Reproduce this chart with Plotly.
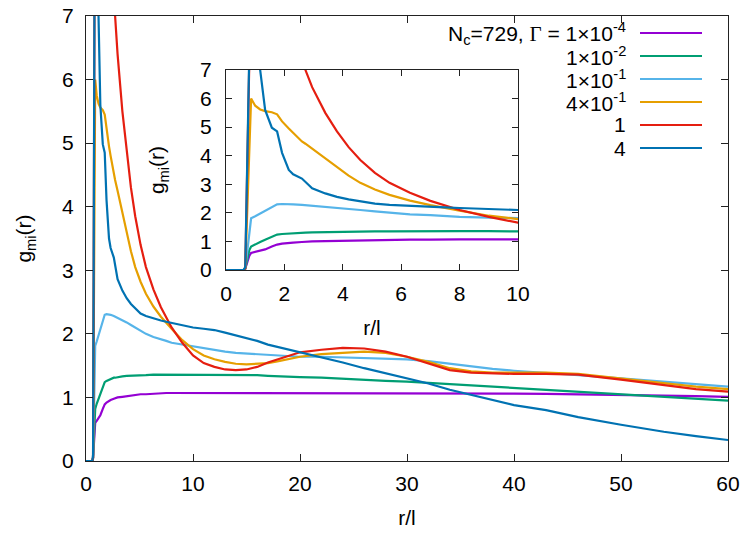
import plotly.graph_objects as go

# ---------------- data ----------------
r = [0, 0.6, 0.66, 0.8, 0.86, 1.0, 1.17, 1.34, 1.57, 1.75,
     1.92, 2.15, 2.3, 2.6, 2.72, 2.95, 3.4, 3.8, 4.2, 4.6,
     5.1, 5.6, 6.3, 7.0, 7.5, 8, 9, 10, 11, 12,
     13, 14, 15, 16, 17, 18, 20, 22, 24, 26,
     28, 30, 32, 34, 36, 38, 40, 43, 46, 50,
     54, 57, 60]

g_1e_4 = [0, 0, 0.05, 0.5, 0.6, 0.63, 0.67, 0.72, 0.82, 0.89,
          0.92, 0.95, 0.96, 0.98, 0.99, 1.0, 1.01, 1.02, 1.03, 1.04,
          1.05, 1.05, 1.06, 1.06, 1.07, 1.07, 1.07, 1.07, 1.07, 1.07,
          1.07, 1.07, 1.07, 1.07, 1.07, 1.07, 1.07, 1.07, 1.07, 1.07,
          1.07, 1.07, 1.07, 1.07, 1.07, 1.065, 1.06, 1.055, 1.05, 1.04,
          1.03, 1.02, 1.01]

g_1e_2 = [0, 0, 0.05, 0.7, 0.82, 0.9, 0.98, 1.06, 1.17, 1.24,
          1.26, 1.28, 1.29, 1.31, 1.31, 1.32, 1.33, 1.34, 1.34, 1.35,
          1.35, 1.35, 1.36, 1.36, 1.36, 1.36, 1.36, 1.36, 1.36, 1.36,
          1.36, 1.36, 1.35, 1.35, 1.34, 1.33, 1.32, 1.31, 1.29, 1.28,
          1.26, 1.25, 1.23, 1.21, 1.19, 1.16, 1.14, 1.11, 1.08, 1.04,
          1.0, 0.98, 0.95]

g_1e_1 = [0, 0, 0.05, 1.3, 1.81, 1.88, 1.97, 2.07, 2.2, 2.3,
          2.31, 2.31, 2.3, 2.28, 2.27, 2.25, 2.22, 2.18, 2.14, 2.1,
          2.05, 2.0, 1.95, 1.92, 1.89, 1.86, 1.83, 1.8, 1.77, 1.74,
          1.72, 1.70, 1.69, 1.67, 1.66, 1.65, 1.64, 1.64, 1.63, 1.63,
          1.62, 1.60, 1.57, 1.53, 1.48, 1.45, 1.42, 1.39, 1.35, 1.30,
          1.25, 1.21, 1.17]

g_4e_1 = [0, 0, 0.05, 4.2, 6.0, 5.75, 5.62, 5.56, 5.52, 5.45,
          5.2, 4.95, 4.8, 4.5, 4.42, 4.25, 3.9, 3.6, 3.3, 3.05,
          2.82, 2.63, 2.43, 2.27, 2.17, 2.08, 1.9, 1.76, 1.66, 1.6,
          1.56, 1.53, 1.52, 1.53, 1.54, 1.57, 1.64, 1.68, 1.70, 1.72,
          1.70, 1.64, 1.56, 1.46, 1.41, 1.39, 1.39, 1.39, 1.37, 1.30,
          1.22, 1.17, 1.13]

g_1 = [0, 0, 0.05, 7.4, 20, 18, 15, 13, 11.5, 10.5,
       9.7, 8.8, 8.3, 7.4, 7.0, 6.4, 5.5, 4.85, 4.3, 3.85,
       3.4, 3.05, 2.7, 2.42, 2.25, 2.1, 1.86, 1.66, 1.54, 1.48,
       1.44, 1.43, 1.44, 1.48, 1.55, 1.60, 1.71, 1.75, 1.78, 1.77,
       1.72, 1.64, 1.53, 1.43, 1.39, 1.38, 1.37, 1.37, 1.36, 1.28,
       1.19, 1.13, 1.09]

g_4 = [0, 0, 0.1, 7.4, 11, 10, 7.0, 5.6, 4.98, 4.85,
       4.1, 3.5, 3.35, 3.2, 3.08, 2.86, 2.68, 2.56, 2.47, 2.4,
       2.32, 2.28, 2.24, 2.21, 2.19, 2.17, 2.13, 2.1, 2.08, 2.06,
       2.02, 1.98, 1.94, 1.89, 1.83, 1.79, 1.72, 1.64, 1.55, 1.46,
       1.38, 1.30, 1.22, 1.12, 1.04, 0.96, 0.88, 0.80, 0.69, 0.57,
       0.46, 0.39, 0.33]

legend_labels = ["N<sub>c</sub>=729, <span style=\"font-family:'Liberation Serif'\">Γ</span> = 1×10<sup>-4</sup>",
                 "1×10<sup>-2</sup>", "1×10<sup>-1</sup>", "4×10<sup>-1</sup>", "1", "4"]
series = [g_1e_4, g_1e_2, g_1e_1, g_4e_1, g_1, g_4]
colors = ["#9400d3", "#009e73", "#56b4e9", "#e69f00", "#e51e10", "#0072b2"]

# ---------------- layout geometry (page pixels; page body has 8px margin) ----------------
OFF = 8
W, H = 750 - OFF, 534 - OFF
PL, PR, PT, PB = 86, 728, 16, 461          # plot area in page pixels
L, R, T, B = PL - OFF, 750 - PR, PT - OFF, 534 - PB
PW, PH = PR - PL, PB - PT


def px(x):
    return (x - PL) / PW


def py(y):
    return (PB - y) / PH


FONT = "Liberation Sans, Arial, sans-serif"
FS = 21
AXC = "#222222"

fig = go.Figure()
for y, c in zip(series, colors):
    fig.add_trace(go.Scatter(x=r, y=y, mode="lines", line=dict(color=c, width=2.2),
                             xaxis="x", yaxis="y", showlegend=False, hoverinfo="skip"))
for y, c in zip(series, colors):
    fig.add_trace(go.Scatter(x=r, y=y, mode="lines", line=dict(color=c, width=2.2),
                             xaxis="x2", yaxis="y2", showlegend=False, hoverinfo="skip"))

axis_common = dict(showgrid=False, zeroline=False, showline=True, linecolor=AXC, linewidth=1.2,
                   mirror="ticks", ticks="inside", tickcolor=AXC, tickwidth=1.2,
                   ticklabeloverflow="allow",
                   tickfont=dict(family=FONT, size=FS, color="#000"))

fig.update_layout(
    width=W, height=H,
    margin=dict(l=L, r=R, t=T, b=B, autoexpand=False),
    paper_bgcolor="white", plot_bgcolor="white",
    font=dict(family=FONT, size=FS, color="#000"),
    xaxis=dict(range=[0, 60], dtick=10, tick0=0, domain=[0, 1], anchor="y", ticklen=7,
               title=dict(text="r/l", standoff=16, font=dict(family=FONT, size=FS)),
               ticklabelstandoff=4, **axis_common),
    yaxis=dict(range=[0, 7], dtick=1, tick0=0, domain=[0, 1], anchor="x", ticklen=7,
               title=dict(text="g<sub>mi</sub>(r)", standoff=24, font=dict(family=FONT, size=FS)),
               ticklabelstandoff=7, **axis_common),
    xaxis2=dict(range=[0, 10], dtick=2, tick0=0, domain=[px(226), px(518)], anchor="y2", ticklen=6,
                title=dict(text="r/l", standoff=16, font=dict(family=FONT, size=FS)),
                ticklabelstandoff=5, **axis_common),
    yaxis2=dict(range=[0, 7], dtick=1, tick0=0, domain=[py(270), py(70)], anchor="x2", ticklen=6,
                title=dict(text="g<sub>mi</sub>(r)", standoff=29, font=dict(family=FONT, size=FS)),
                ticklabelstandoff=9, **axis_common),
)

# manual key: text right-aligned, sample line to its right
rows = [33, 56, 79, 102, 125, 148]
for lab, c, yy in zip(legend_labels, colors, rows):
    fig.add_annotation(xref="paper", yref="paper", x=px(628), y=py(yy), text=lab,
                       showarrow=False, xanchor="right", yanchor="middle",
                       font=dict(family=FONT, size=FS, color="#000"))
    fig.add_shape(type="line", xref="paper", yref="paper", x0=px(640), x1=px(702),
                  y0=py(yy), y1=py(yy), line=dict(color=c, width=2.2))

fig.write_html("out.html")
